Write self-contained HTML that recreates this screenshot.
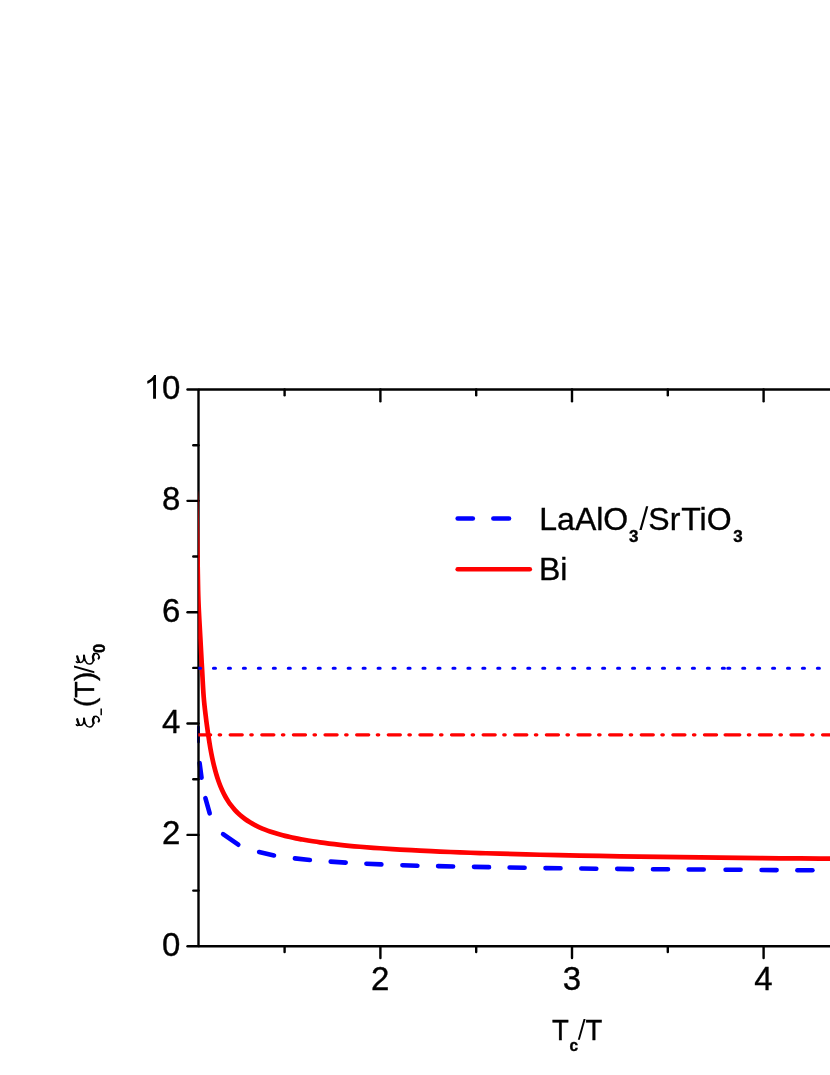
<!DOCTYPE html>
<html><head><meta charset="utf-8"><title>chart</title>
<style>html,body{margin:0;padding:0;background:#fff}svg{display:block;will-change:transform;opacity:0.9999}text{font-family:"Liberation Sans",sans-serif;fill:#000;stroke:#000;stroke-width:0.35px}</style></head><body>
<svg width="830" height="1075" viewBox="0 0 830 1075">
<rect width="830" height="1075" fill="#fff"/>
<defs><clipPath id="cp"><rect x="198.35" y="380" width="640" height="570"/></clipPath></defs>
<line x1="198.5" y1="727" x2="198.5" y2="742" stroke="#0000ff" stroke-width="2.9" stroke-linecap="round"/>
<g stroke="#0000ff" stroke-width="4.6" stroke-linecap="round" fill="none">
<line x1="199.6" y1="763.0" x2="201.5" y2="777.6"/>
<line x1="205.4" y1="798.2" x2="209.7" y2="813.4"/>
<line x1="223.1" y1="834.1" x2="238.3" y2="844.7"/>
<line x1="259.1" y1="852.0" x2="274.0" y2="855.4"/>
<line x1="294.9" y1="858.4" x2="309.9" y2="860.0"/>
<line x1="330.7" y1="861.6" x2="345.7" y2="862.6"/>
<line x1="366.4" y1="863.7" x2="381.4" y2="864.4"/>
<line x1="402.4" y1="865.2" x2="417.4" y2="865.7"/>
<line x1="438.1" y1="866.1" x2="453.1" y2="866.5"/>
<line x1="474.0" y1="866.9" x2="489.0" y2="867.1"/>
<line x1="509.6" y1="867.5" x2="524.6" y2="867.7"/>
<line x1="545.5" y1="868.1" x2="560.5" y2="868.3"/>
<line x1="581.3" y1="868.5" x2="596.3" y2="868.7"/>
<line x1="617.2" y1="868.9" x2="632.2" y2="869.1"/>
<line x1="653.0" y1="869.2" x2="668.0" y2="869.3"/>
<line x1="688.7" y1="869.5" x2="703.7" y2="869.5"/>
<line x1="725.6" y1="869.7" x2="740.6" y2="869.8"/>
<line x1="761.6" y1="870.0" x2="776.6" y2="870.1"/>
<line x1="797.4" y1="870.3" x2="812.4" y2="870.3"/>
</g>
<g stroke="#000" stroke-width="2.4" fill="none" stroke-linecap="butt">
<line x1="198.50" y1="389.50" x2="198.50" y2="946.25"/>
<line x1="198.50" y1="389.50" x2="830" y2="389.50"/>
<line x1="198.50" y1="946.25" x2="830" y2="946.25"/>
</g>
<g stroke="#000" stroke-width="2.4" fill="none" stroke-linecap="round">
<line x1="187.50" y1="946.25" x2="198.50" y2="946.25"/>
<line x1="193.30" y1="890.58" x2="198.50" y2="890.58"/>
<line x1="187.50" y1="834.90" x2="198.50" y2="834.90"/>
<line x1="193.30" y1="779.23" x2="198.50" y2="779.23"/>
<line x1="187.50" y1="723.55" x2="198.50" y2="723.55"/>
<line x1="193.30" y1="667.88" x2="198.50" y2="667.88"/>
<line x1="187.50" y1="612.20" x2="198.50" y2="612.20"/>
<line x1="193.30" y1="556.52" x2="198.50" y2="556.52"/>
<line x1="187.50" y1="500.85" x2="198.50" y2="500.85"/>
<line x1="193.30" y1="445.18" x2="198.50" y2="445.18"/>
<line x1="187.50" y1="389.50" x2="198.50" y2="389.50"/>
<line x1="284.60" y1="946.25" x2="284.60" y2="951.95"/>
<line x1="284.60" y1="389.50" x2="284.60" y2="395.20"/>
<line x1="380.40" y1="946.25" x2="380.40" y2="957.95"/>
<line x1="380.40" y1="389.50" x2="380.40" y2="401.20"/>
<line x1="476.20" y1="946.25" x2="476.20" y2="951.95"/>
<line x1="476.20" y1="389.50" x2="476.20" y2="395.20"/>
<line x1="572.00" y1="946.25" x2="572.00" y2="957.95"/>
<line x1="572.00" y1="389.50" x2="572.00" y2="401.20"/>
<line x1="667.80" y1="946.25" x2="667.80" y2="951.95"/>
<line x1="667.80" y1="389.50" x2="667.80" y2="395.20"/>
<line x1="763.60" y1="946.25" x2="763.60" y2="957.95"/>
<line x1="763.60" y1="389.50" x2="763.60" y2="401.20"/>
</g>
<path d="M195.60 490.00 C195.70 491.67 195.88 488.83 196.20 500.00 C196.52 511.17 197.13 540.33 197.50 557.00 C197.87 573.67 197.93 586.67 198.40 600.00 C198.87 613.33 199.70 625.67 200.30 637.00 C200.90 648.33 201.43 658.00 202.00 668.00 C202.57 678.00 203.05 688.75 203.70 697.00 C204.35 705.25 205.13 711.13 205.90 717.50 C206.67 723.87 207.57 730.15 208.30 735.21 C209.03 740.28 209.63 744.04 210.30 747.89 C210.97 751.73 211.63 755.11 212.30 758.28 C212.97 761.46 213.63 764.28 214.30 766.94 C214.97 769.60 215.63 771.98 216.30 774.24 C216.97 776.49 217.63 778.53 218.30 780.46 C218.97 782.40 219.63 784.16 220.30 785.84 C220.97 787.51 221.63 789.05 222.30 790.51 C222.97 791.97 223.63 793.32 224.30 794.61 C224.97 795.90 225.63 797.10 226.30 798.24 C226.97 799.39 227.68 800.52 228.30 801.47 C228.92 802.43 228.88 802.51 230.00 803.96 C231.12 805.40 233.33 808.28 235.00 810.13 C236.67 811.97 238.33 813.54 240.00 815.02 C241.67 816.51 243.33 817.79 245.00 819.01 C246.67 820.23 248.33 821.31 250.00 822.33 C251.67 823.35 253.33 824.26 255.00 825.13 C256.67 826.00 258.33 826.79 260.00 827.54 C261.67 828.29 263.33 828.97 265.00 829.63 C266.67 830.28 268.33 830.89 270.00 831.47 C271.67 832.04 273.33 832.58 275.00 833.10 C276.67 833.61 278.33 834.09 280.00 834.55 C281.67 835.01 283.33 835.45 285.00 835.86 C286.67 836.28 288.33 836.67 290.00 837.05 C291.67 837.43 293.33 837.78 295.00 838.13 C296.67 838.47 295.83 838.41 300.00 839.12 C304.17 839.82 313.33 841.41 320.00 842.36 C326.67 843.31 333.33 844.08 340.00 844.80 C346.67 845.53 353.33 846.14 360.00 846.72 C366.67 847.30 373.33 847.80 380.00 848.27 C386.67 848.74 393.33 849.16 400.00 849.55 C406.67 849.94 413.33 850.30 420.00 850.63 C426.67 850.97 433.33 851.27 440.00 851.56 C446.67 851.84 453.33 852.11 460.00 852.36 C466.67 852.61 473.33 852.84 480.00 853.06 C486.67 853.28 490.00 853.40 500.00 853.68 C510.00 853.96 526.67 854.42 540.00 854.73 C553.33 855.05 566.67 855.33 580.00 855.59 C593.33 855.85 606.67 856.09 620.00 856.31 C633.33 856.53 646.67 856.72 660.00 856.91 C673.33 857.10 686.67 857.27 700.00 857.43 C713.33 857.59 726.67 857.74 740.00 857.88 C753.33 858.02 766.67 858.15 780.00 858.28 C793.33 858.40 806.67 858.52 820.00 858.63 C833.33 858.74 853.33 858.89 860.00 858.94" stroke="#ff0000" stroke-width="4.7" fill="none" stroke-linecap="round" stroke-linejoin="round" clip-path="url(#cp)"/>
<g clip-path="url(#cp)" stroke-linecap="round" fill="none">
<line x1="198.5" y1="668.2" x2="727.8" y2="668.2" stroke="#0000ff" stroke-width="3.1" stroke-dasharray="2 12.968"/>
<line x1="727.8" y1="668.2" x2="845" y2="668.2" stroke="#0000ff" stroke-width="3.1" stroke-dasharray="2 12.93"/>
<line x1="198.53" y1="734.8" x2="727.7" y2="734.8" stroke="#ff0000" stroke-width="3.2" stroke-dasharray="12.13 8.5 1.49 9.5"/>
<line x1="727.7" y1="734.8" x2="845" y2="734.8" stroke="#ff0000" stroke-width="3.2" stroke-dasharray="12.13 8.5 1.49 9.5"/>
</g>
<text transform="translate(180.40 955.55) scale(1 1.015)" font-size="33px" text-anchor="end">0</text>
<text transform="translate(180.40 844.20) scale(1 1.015)" font-size="33px" text-anchor="end">2</text>
<text transform="translate(180.40 732.85) scale(1 1.015)" font-size="33px" text-anchor="end">4</text>
<text transform="translate(180.40 621.50) scale(1 1.015)" font-size="33px" text-anchor="end">6</text>
<text transform="translate(180.40 510.15) scale(1 1.015)" font-size="33px" text-anchor="end">8</text>
<text transform="translate(180.40 398.80) scale(1 1.015)" font-size="33px" text-anchor="end">0</text>
<path transform="translate(143.69 398.80) scale(0.01611 -0.01611)" d="M763 0H583V1147Q518 1085 412.5 1023Q307 961 223 930V1104Q374 1175 487 1276Q600 1377 647 1472H763Z" fill="#000"/>
<text transform="translate(380.20 989.70) scale(1 1.015)" font-size="33px" text-anchor="middle">2</text>
<text transform="translate(571.80 989.70) scale(1 1.015)" font-size="33px" text-anchor="middle">3</text>
<text transform="translate(763.40 989.70) scale(1 1.015)" font-size="33px" text-anchor="middle">4</text>
<text transform="translate(552.00 1039.50) scale(1 1.070)" font-size="27.5px" text-anchor="start">T</text>
<text transform="translate(569.40 1050.50) scale(1 1.015)" font-size="15.5px" text-anchor="start" font-weight="bold">c</text>
<path transform="translate(577.80 1039.50) scale(0.01367 -0.01367)" d="M0 -25L425 1491H569L145 -25Z" fill="#000"/>
<text transform="translate(585.60 1039.50) scale(1 1.070)" font-size="27.5px" text-anchor="start">T</text>
<line x1="457.7" y1="518.5" x2="472.8" y2="518.5" stroke="#0000ff" stroke-width="4.6" stroke-linecap="round"/>
<line x1="493.4" y1="518.5" x2="509.0" y2="518.5" stroke="#0000ff" stroke-width="4.6" stroke-linecap="round"/>
<line x1="457.7" y1="569.2" x2="529.8" y2="569.2" stroke="#ff0000" stroke-width="4.6" stroke-linecap="round"/>
<text transform="translate(539.30 529.70) scale(1 1.000)" font-size="32px" text-anchor="start">LaAlO</text>
<text transform="translate(629.00 541.50) scale(1 1.015)" font-size="17px" text-anchor="start" font-weight="bold">3</text>
<path transform="translate(639.40 529.60) scale(0.01562 -0.01562)" d="M0 -25L425 1491H569L145 -25Z" fill="#000"/>
<text transform="translate(648.30 529.70) scale(1 1.000)" font-size="32px" text-anchor="start">Sr</text>
<text transform="translate(681.20 529.70) scale(1 1.000)" font-size="32px" text-anchor="start">TiO</text>
<text transform="translate(733.30 541.50) scale(1 1.015)" font-size="17px" text-anchor="start" font-weight="bold">3</text>
<text transform="translate(539.00 579.90) scale(1 1.000)" font-size="32px" text-anchor="start">Bi</text>
<g transform="translate(0 0.00)" stroke="#000" fill="none" stroke-linecap="round" stroke-linejoin="round">
<path d="M77.20 719.30 C77.33 719.75 77.72 721.12 78.00 722.00 C78.28 722.88 78.75 724.17 78.90 724.60" stroke-width="2.3"/>
<path d="M76.30 724.70 C76.48 724.83 76.97 725.43 77.40 725.50 C77.83 725.57 78.28 725.13 78.90 725.10 C79.52 725.07 80.42 725.52 81.10 725.30 C81.78 725.08 82.55 724.52 83.00 723.80 C83.45 723.08 83.63 721.87 83.80 721.00 C83.97 720.13 83.97 719.00 84.00 718.60" stroke-width="1.5"/>
<path d="M84.00 718.60 C84.05 719.00 84.15 720.25 84.30 721.00 C84.45 721.75 84.80 722.75 84.90 723.10" stroke-width="2.1"/>
<path d="M84.90 723.10 C85.23 723.58 86.08 725.35 86.90 726.00 C87.72 726.65 88.92 727.00 89.80 727.00 C90.68 727.00 91.57 726.65 92.20 726.00 C92.83 725.35 93.37 723.58 93.60 723.10" stroke-width="1.5"/>
<path d="M93.60 723.10 C93.52 722.75 93.20 721.63 93.10 721.00 C93.00 720.37 92.83 719.98 93.00 719.30 C93.17 718.62 93.92 717.30 94.10 716.90" stroke-width="2.3"/>
<path d="M94.10 716.90 C94.42 716.78 95.28 716.05 96.00 716.20 C96.72 716.35 97.87 717.13 98.40 717.80 C98.93 718.47 99.07 719.80 99.20 720.20" stroke-width="1.5"/>
<path d="M99.20 720.20 C99.15 720.33 99.02 720.77 98.90 721.00 C98.78 721.23 98.57 721.50 98.50 721.60" stroke-width="1.9"/>
</g>
<line x1="101.2" y1="715.2" x2="101.2" y2="708.4" stroke="#000" stroke-width="1.5"/>
<text transform="translate(94.0 707.0) rotate(-90) scale(1 1.000)" font-size="27.5px" >(</text>
<text transform="translate(94.0 697.7) rotate(-90) scale(1 1.050)" font-size="27px" >T</text>
<text transform="translate(94.0 681.0) rotate(-90) scale(1 1.000)" font-size="27.5px" >)</text>
<path transform="translate(94.00 673.20) rotate(-90) scale(0.01343 -0.01343)" d="M0 -25L425 1491H569L145 -25Z" fill="#000"/>
<g transform="translate(0 -62.96)" stroke="#000" fill="none" stroke-linecap="round" stroke-linejoin="round">
<path d="M77.20 719.30 C77.33 719.75 77.72 721.12 78.00 722.00 C78.28 722.88 78.75 724.17 78.90 724.60" stroke-width="2.3"/>
<path d="M76.30 724.70 C76.48 724.83 76.97 725.43 77.40 725.50 C77.83 725.57 78.28 725.13 78.90 725.10 C79.52 725.07 80.42 725.52 81.10 725.30 C81.78 725.08 82.55 724.52 83.00 723.80 C83.45 723.08 83.63 721.87 83.80 721.00 C83.97 720.13 83.97 719.00 84.00 718.60" stroke-width="1.5"/>
<path d="M84.00 718.60 C84.05 719.00 84.15 720.25 84.30 721.00 C84.45 721.75 84.80 722.75 84.90 723.10" stroke-width="2.1"/>
<path d="M84.90 723.10 C85.23 723.58 86.08 725.35 86.90 726.00 C87.72 726.65 88.92 727.00 89.80 727.00 C90.68 727.00 91.57 726.65 92.20 726.00 C92.83 725.35 93.37 723.58 93.60 723.10" stroke-width="1.5"/>
<path d="M93.60 723.10 C93.52 722.75 93.20 721.63 93.10 721.00 C93.00 720.37 92.83 719.98 93.00 719.30 C93.17 718.62 93.92 717.30 94.10 716.90" stroke-width="2.3"/>
<path d="M94.10 716.90 C94.42 716.78 95.28 716.05 96.00 716.20 C96.72 716.35 97.87 717.13 98.40 717.80 C98.93 718.47 99.07 719.80 99.20 720.20" stroke-width="1.5"/>
<path d="M99.20 720.20 C99.15 720.33 99.02 720.77 98.90 721.00 C98.78 721.23 98.57 721.50 98.50 721.60" stroke-width="1.9"/>
</g>
<text transform="translate(105.3 653.1) rotate(-90) scale(1 1.015)" font-size="16.5px" font-weight="bold">0</text>
</svg></body></html>
